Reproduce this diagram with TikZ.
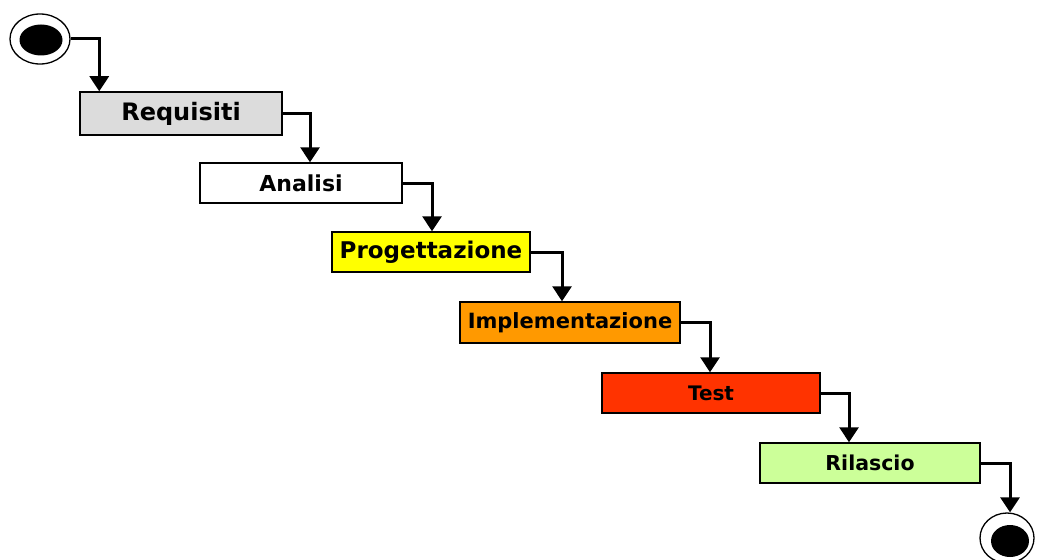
\documentclass[tikz,border=0pt]{standalone}
\usepackage{fontspec}
\setmainfont{DejaVu Sans}
\usetikzlibrary{shapes.geometric,arrows.meta}
\definecolor{reqgray}{HTML}{DCDCDC}
\definecolor{proyellow}{HTML}{FFFF00}
\definecolor{imporange}{HTML}{FF9900}
\definecolor{testred}{HTML}{FF3300}
\definecolor{rilgreen}{HTML}{CCFF99}
\tikzset{
  phase/.style={draw=black, line width=1.5pt, rectangle, inner sep=0pt,
    minimum height=40pt, font=\bfseries},
  ring/.style={draw=black, line width=1.3pt, ellipse, inner sep=0pt, fill=white},
  dot/.style={fill=black, ellipse, inner sep=0pt},
  flow/.style={line width=3pt, -{Triangle[width=19pt,length=15pt]}},
}
\newcommand{\fs}[1]{\fontsize{#1}{#1}\selectfont}
\begin{document}
\begin{tikzpicture}[x=1pt,y=-1pt]
  \useasboundingbox (0,0) rectangle (1043,559);
  % start and end markers
  \node[ring, minimum width=60pt, minimum height=50pt] (start) at (40,39) {};
  \node[dot, minimum width=43pt, minimum height=31pt] (startdot) at (41,40) {};
  \node[ring, minimum width=54pt, minimum height=50pt] (end) at (1007,538) {};
  \node[dot, minimum width=38pt, minimum height=32pt] (enddot) at (1010,541) {};
  % phases
  \node[phase, fill=reqgray, minimum width=202pt, minimum height=43pt] (req) at (181,113.5) {\fs{24}Requisiti};
  \node[phase, fill=white, minimum width=202pt] (ana) at (301,183) {\fs{22}Analisi};
  \node[phase, fill=proyellow, minimum width=198pt] (pro) at (431,252) {\fs{23}Progettazione};
  \node[phase, fill=imporange, minimum width=220pt, minimum height=41pt] (imp) at (570,322.5) {\fs{21}Implementazione};
  \node[phase, fill=testred, minimum width=218pt] (tst) at (711,393) {\fs{20}Test};
  \node[phase, fill=rilgreen, minimum width=220pt] (ril) at (870,463) {\fs{20.5}Rilascio};
  % connectors
  \draw[flow] (start.east) -| ([xshift=20pt]req.north west);
  \draw[flow] (req.east) -| ([xshift=9pt]ana.north);
  \draw[flow] (ana.east) -| ([xshift=1pt]pro.north);
  \draw[flow] (pro.east) -| ([xshift=-8pt]imp.north);
  \draw[flow] (imp.east) -| ([xshift=-1pt]tst.north);
  \draw[flow] (tst.east) -| ([xshift=-21pt]ril.north);
  \draw[flow] (ril.east) -| ([xshift=3pt]end.north);
\end{tikzpicture}
\end{document}
